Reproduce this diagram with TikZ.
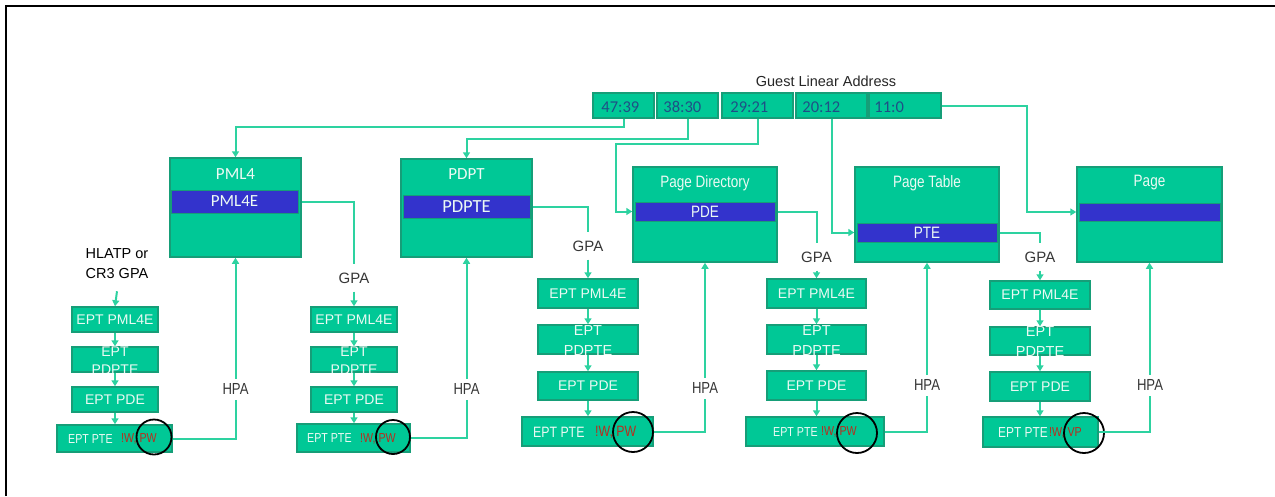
\documentclass[tikz,border=0pt]{standalone}
\usepackage{fontspec}
\setmainfont{Liberation Sans}
\newfontfamily\narrowf[FakeStretch=0.82]{Liberation Sans}
\newfontfamily\calf{Carlito}
\usetikzlibrary{arrows.meta}
\newcommand\fsz[2]{\fontsize{#1}{#2}\selectfont}
\definecolor{gfill}{RGB}{0,200,150}
\definecolor{gline}{RGB}{22,158,120}
\definecolor{ccol}{RGB}{45,210,160}
\definecolor{bandc}{RGB}{51,51,204}
\definecolor{wtxt}{RGB}{236,250,244}
\definecolor{rtxt}{RGB}{185,45,30}
\definecolor{atxt}{RGB}{31,79,134}
\definecolor{gtxt}{RGB}{55,55,55}
\tikzset{
  gbox/.style={draw=gline, fill=gfill, line width=1.5pt, inner sep=0pt},
  bandbox/.style={draw=gline, fill=bandc, line width=0.8pt, inner sep=0pt, text=wtxt},
  addrbox/.style={gbox, minimum height=25pt},
  addrtxt/.style={anchor=west, text=atxt, font=\calf\fsz{16.5}{19}, inner sep=0pt},
  titletxt/.style={text=wtxt, inner sep=0pt},
  conn/.style={draw=ccol, line width=2pt},
  arr/.style={conn, -{Triangle[length=6pt,width=7pt]}},
  gpalbl/.style={text=gtxt, font=\fsz{15}{18}, inner xsep=2pt, inner ysep=8pt},
  hpalbl/.style={fill=white, text=gtxt, font=\narrowf\fsz{16}{19}, inner xsep=1pt, inner ysep=5pt},
  ept/.style={gbox, text=wtxt, font=\fsz{14}{17}},
  epttwo/.style={text=wtxt, font=\fsz{14}{18}, align=center, inner sep=0pt},
  ptetxt/.style={anchor=west, text=wtxt, inner sep=0pt},
  redtxt/.style={anchor=west, text=rtxt, inner sep=0pt},
  ring/.style={circle, draw=black, line width=1.8pt, inner sep=0pt},
}
\begin{document}
\begin{tikzpicture}[x=1pt,y=-1pt]
\useasboundingbox (0,0) rectangle (1275,496);
\fill[white] (0,0) rectangle (1275,496);
% frame
\draw[line width=2pt] (6,496) -- (6,6) -- (1276,6);

% Guest linear address
\node[text=black!85, font=\fsz{14.5}{17}, inner sep=0pt] (gla) at (826,81) {Guest Linear Address};
\node[addrbox, minimum width=61pt] (a4739) at (623.5,105.5) {};
\node[addrbox, minimum width=61pt] (a3830) at (687.5,105.5) {};
\node[addrbox, minimum width=71pt] (a2921) at (757.5,105.5) {};
\node[addrbox, minimum width=71pt] (a2012) at (831.5,105.5) {};
\node[addrbox, minimum width=72pt] (a110) at (905,105.5) {};
\node[addrtxt] (t4739) at ([xshift=9pt,yshift=-1.5pt]a4739.west) {47:39};
\node[addrtxt] (t3830) at ([xshift=7pt,yshift=-1.5pt]a3830.west) {38:30};
\node[addrtxt] (t2921) at ([xshift=9pt,yshift=-1.5pt]a2921.west) {29:21};
\node[addrtxt] (t2012) at ([xshift=7pt,yshift=-1.5pt]a2012.west) {20:12};
\node[addrtxt] (t110) at ([xshift=6pt,yshift=-1.5pt]a110.west) {11:0};

% Paging structure tables
\node[gbox, minimum width=131pt, minimum height=99pt] (pml4) at (235.5,207.5) {};
\node[titletxt, font=\calf\fsz{17}{20}] (pml4t) at (235.5,174) {PML4};
\node[bandbox, minimum width=127pt, minimum height=23pt, font=\calf\fsz{17}{20}] (pml4e) at (234.5,201.5) {PML4E};

\node[gbox, minimum width=131pt, minimum height=98pt] (pdpt) at (466.5,208) {};
\node[titletxt, font=\calf\fsz{17}{20}] (pdptt) at (466.5,174) {PDPT};
\node[bandbox, minimum width=127pt, minimum height=23pt, font=\calf\fsz{18.5}{21}] (pdpte) at (466.5,206.5) {PDPTE};

\node[gbox, minimum width=144pt, minimum height=95pt] (pd) at (705,214.5) {};
\node[titletxt, font=\narrowf\fsz{16.5}{19}] (pdt) at (705,183) {Page Directory};
\node[bandbox, minimum width=140pt, minimum height=19pt, font=\narrowf\fsz{16.5}{19}] (pde) at (705,211.5) {PDE};

\node[gbox, minimum width=144pt, minimum height=95pt] (pt) at (927,214.5) {};
\node[titletxt, font=\narrowf\fsz{16.5}{19}] (ptt) at (927,183) {Page Table};
\node[bandbox, minimum width=140pt, minimum height=19pt, font=\narrowf\fsz{16.5}{19}] (pte) at (927,232.5) {PTE};

\node[gbox, minimum width=145pt, minimum height=95pt] (page) at (1149.5,214.5) {};
\node[titletxt, font=\narrowf\fsz{16.5}{19}] (paget) at (1149.5,183) {Page};
\node[bandbox, minimum width=141pt, minimum height=18pt] (pgb) at (1149.5,212) {};

% address connectors
\coordinate (b3) at (616,144);
\coordinate (b5) at (1027,150);
\draw[arr] (a4739.south) -- ++(0,8) -| (pml4.north);
\draw[arr] (a3830.south) -- ++(0,20) -| (pdpt.north);
\draw[arr] (a2921.south) |- (b3) |- (pde.west -| pd.west);
\draw[arr] (a2012.south) |- (pte.west -| pt.west);
\draw[arr] (a110.east) -| (b5) |- (pgb.west -| page.west);

% ---------- Stack 1
\node[text=black, font=\fsz{14.5}{20}, align=center, inner xsep=0pt, inner ysep=12pt] (hl) at (117,264) {HLATP or\\CR3 GPA};
\node[ept, minimum width=86pt, minimum height=25pt] (e1a) at (115,319.5) {EPT PML4E};
\node[gbox, minimum width=86pt, minimum height=25pt] (e1b) at (115,359.5) {};
\begin{scope}
\clip (e1b.south west) rectangle (e1b.north east);
\node[epttwo] (e1bt) at ([yshift=-1pt]e1b.center) {EPT\\PDPTE};
\end{scope}
\node[ept, minimum width=86pt, minimum height=25pt] (e1c) at (115,399.5) {EPT PDE};
\node[gbox, minimum width=115pt, minimum height=27pt] (e1d) at (114.5,438.5) {};
\node[ptetxt, font=\narrowf\fsz{13}{16}] (e1dt) at (68,439) {EPT PTE};
\node[redtxt, font=\narrowf\fsz{13}{16}] (e1dr) at (121,439) {!W, PW};
\node[ring, minimum size=35pt] (r1) at (154,437) {};
\draw[arr] (hl.south) -- (e1a.north);
\draw[arr] (e1a.south) -- (e1b.north);
\draw[arr] (e1b.south) -- (e1c.north);
\draw[arr] (e1c.south) -- (e1c.south |- e1d.north);
\draw[arr] (e1d.east) -| (pml4.south);
\node[hpalbl] (h1) at (235.5,389) {HPA};

% ---------- Stack 2
\node[gpalbl] (gpa2) at (354,278) {GPA};
\node[ept, minimum width=86pt, minimum height=25pt] (e2a) at (354,319.5) {EPT PML4E};
\node[gbox, minimum width=86pt, minimum height=25pt] (e2b) at (354,359.5) {};
\begin{scope}
\clip (e2b.south west) rectangle (e2b.north east);
\node[epttwo] (e2bt) at ([yshift=-1pt]e2b.center) {EPT\\PDPTE};
\end{scope}
\node[ept, minimum width=86pt, minimum height=25pt] (e2c) at (354,399.5) {EPT PDE};
\node[gbox, minimum width=113pt, minimum height=28pt] (e2d) at (353.5,438) {};
\node[ptetxt, font=\narrowf\fsz{13}{16}] (e2dt) at (307,438.5) {EPT PTE};
\node[redtxt, font=\narrowf\fsz{13}{16}] (e2dr) at (360,438.5) {!W, PW};
\node[ring, minimum size=34pt] (r2) at (393,437) {};
\draw[conn] (pml4e.east -| pml4.east) -| (gpa2.north);
\draw[arr] (gpa2.south) -- (e2a.north);
\draw[arr] (e2a.south) -- (e2b.north);
\draw[arr] (e2b.south) -- (e2c.north);
\draw[arr] (e2c.south) -- (e2c.south |- e2d.north);
\draw[arr] (e2d.east) -| (pdpt.south);
\node[hpalbl] (h2) at (466.5,389) {HPA};

% ---------- Stack 3
\node[gpalbl] (gpa3) at (588,246) {GPA};
\node[ept, minimum width=100pt, minimum height=29pt] (e3a) at (588,293.5) {EPT PML4E};
\node[gbox, minimum width=100pt, minimum height=29pt] (e3b) at (588,339.5) {};
\begin{scope}
\clip (e3b.south west) rectangle (e3b.north east);
\node[epttwo, font=\fsz{14.5}{20}] (e3bt) at ([yshift=-1pt]e3b.center) {EPT\\PDPTE};
\end{scope}
\node[ept, minimum width=100pt, minimum height=28pt] (e3c) at (588,386) {EPT PDE};
\node[gbox, minimum width=131pt, minimum height=29pt] (e3d) at (587.5,431.5) {};
\node[ptetxt, font=\narrowf\fsz{15}{18}] (e3dt) at (533,432) {EPT PTE};
\node[redtxt, font=\narrowf\fsz{15}{18}] (e3dr) at (595,432) {!W, PW};
\node[ring, minimum size=40pt] (r3) at (633,432) {};
\draw[conn] (pdpte.east -| pdpt.east) -| (gpa3.north);
\draw[arr] (gpa3.south) -- (e3a.north);
\draw[arr] (e3a.south) -- (e3b.north);
\draw[arr] (e3b.south) -- (e3c.north);
\draw[arr] (e3c.south) -- (e3c.south |- e3d.north);
\draw[arr] (e3d.east) -| (pd.south);
\node[hpalbl] (h3) at (705,388) {HPA};

% ---------- Stack 4
\node[gpalbl] (gpa4) at (816.5,257) {GPA};
\node[ept, minimum width=99pt, minimum height=29pt] (e4a) at (816.5,293.5) {EPT PML4E};
\node[gbox, minimum width=99pt, minimum height=29pt] (e4b) at (816.5,339.5) {};
\begin{scope}
\clip (e4b.south west) rectangle (e4b.north east);
\node[epttwo, font=\fsz{14.5}{20}] (e4bt) at ([yshift=-1pt]e4b.center) {EPT\\PDPTE};
\end{scope}
\node[ept, minimum width=99pt, minimum height=29pt] (e4c) at (816.5,385.5) {EPT PDE};
\node[gbox, minimum width=138pt, minimum height=29pt] (e4d) at (815,431.5) {};
\node[ptetxt, font=\narrowf\fsz{13}{16}] (e4dt) at (773,432) {EPT PTE};
\node[redtxt, font=\narrowf\fsz{13}{16}] (e4dr) at (821,432) {!W, PW};
\node[ring, minimum size=40pt] (r4) at (857,433) {};
\draw[conn] (pde.east -| pd.east) -| (gpa4.north);
\draw[arr] (gpa4.south) -- (e4a.north);
\draw[arr] (e4a.south) -- (e4b.north);
\draw[arr] (e4b.south) -- (e4c.north);
\draw[arr] (e4c.south) -- (e4c.south |- e4d.north);
\draw[arr] (e4d.east) -| (pt.south);
\node[hpalbl] (h4) at (927,385) {HPA};

% ---------- Stack 5
\node[gpalbl] (gpa5) at (1040,257) {GPA};
\node[ept, minimum width=100pt, minimum height=28pt] (e5a) at (1040,295) {EPT PML4E};
\node[gbox, minimum width=100pt, minimum height=28pt] (e5b) at (1040,341) {};
\begin{scope}
\clip (e5b.south west) rectangle (e5b.north east);
\node[epttwo, font=\fsz{14.5}{20}] (e5bt) at ([yshift=-1pt]e5b.center) {EPT\\PDPTE};
\end{scope}
\node[ept, minimum width=100pt, minimum height=29pt] (e5c) at (1040,386.5) {EPT PDE};
\node[gbox, minimum width=115pt, minimum height=30pt] (e5d) at (1040.5,432) {};
\node[ptetxt, font=\narrowf\fsz{14.5}{17}] (e5dt) at (998,432.5) {EPT PTE};
\node[redtxt, font=\narrowf\fsz{13}{16}] (e5dr) at (1049,432.5) {!W, VP};
\node[ring, minimum size=40pt] (r5) at (1084,433) {};
\draw[conn] (pte.east -| pt.east) -| (gpa5.north);
\draw[arr] (gpa5.south) -- (e5a.north);
\draw[arr] (e5a.south) -- (e5b.north);
\draw[arr] (e5b.south) -- (e5c.north);
\draw[arr] (e5c.south) -- (e5c.south |- e5d.north);
\draw[arr] (e5d.east) -| (page.south);
\node[hpalbl] (h5) at (1150,385) {HPA};
\end{tikzpicture}
\end{document}
